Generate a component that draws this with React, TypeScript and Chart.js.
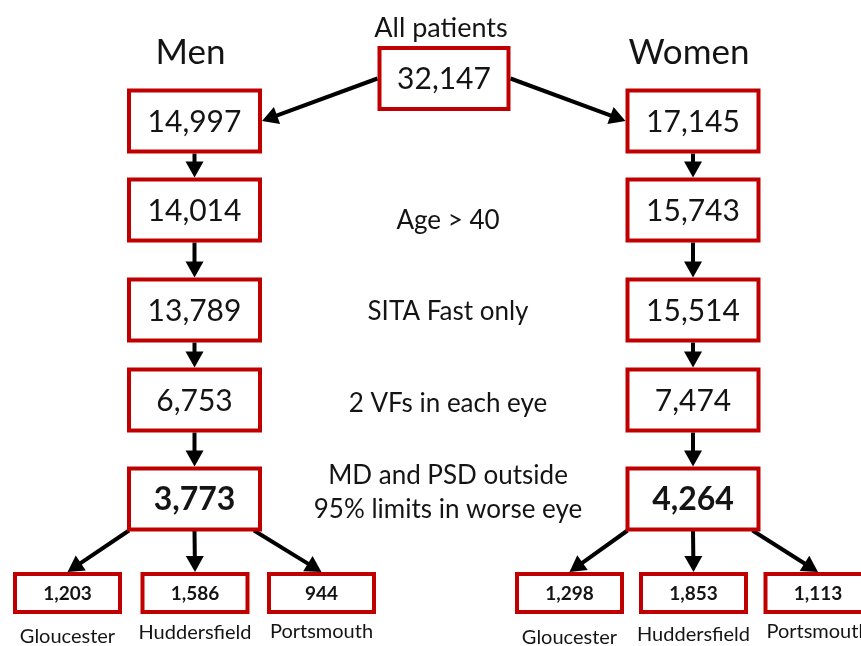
import React, { useEffect, useRef } from "react";
import { Chart, registerables } from "chart.js";
Chart.register(...registerables);

// ---- data ----
const rootTitle = "All patients";
const rootCount = [32147];
const groupNames = ["Men", "Women"];
const stepLabels = ["", "Age > 40", "SITA Fast only", "2 VFs in each eye", "MD and PSD outside\n95% limits in worse eye"];
const menCounts = [14997, 14014, 13789, 6753, 3773];
const womenCounts = [17145, 15743, 15514, 7474, 4264];
const siteNames = ["Gloucester", "Huddersfield", "Portsmouth"];
const menSiteCounts = [1203, 1586, 944];
const womenSiteCounts = [1298, 1853, 1113];

// ---- layout (scale units) ----
const W = 861;
const H = 646;
const centerX = 444;
const stepTextX = 448;
const groupX = [194.5, 693];
const rootY = 78.5;
const titleY = 28;
const groupTitleY = 53;
const stepY = [121, 210, 310, 400, 499];
const stepTextY = [0, 221, 312, 404, 0];
const multiLineY = [476, 510];
const siteX = [
  [67.5, 195, 321.5],
  [569.5, 693.5, 818],
];
const siteY = 593;
const siteLabelY = [
  [637, 632.5, 631.5],
  [637.5, 635, 632],
];
const mainBox = { w: 131, h: 61 };
const rootBox = { w: 129, h: 61 };
const siteBox = { w: 105, h: 38 };

const RED = "#C00000";
const INK = "#141414";
const FONT = "Lato, 'Open Sans', sans-serif";

function fmt(v: number) {
  return v.toLocaleString("en-US");
}

function drawArrow(ctx: CanvasRenderingContext2D, x1: number, y1: number, x2: number, y2: number) {
  const head = 16;
  const half = 9;
  const ang = Math.atan2(y2 - y1, x2 - x1);
  const bx = x2 - head * Math.cos(ang);
  const by = y2 - head * Math.sin(ang);
  ctx.save();
  ctx.strokeStyle = "#000";
  ctx.fillStyle = "#000";
  ctx.lineWidth = 4;
  ctx.beginPath();
  ctx.moveTo(x1, y1);
  ctx.lineTo(bx + 2 * Math.cos(ang), by + 2 * Math.sin(ang));
  ctx.stroke();
  ctx.beginPath();
  ctx.moveTo(x2, y2);
  ctx.lineTo(bx + half * Math.sin(ang), by - half * Math.cos(ang));
  ctx.lineTo(bx - half * Math.sin(ang), by + half * Math.cos(ang));
  ctx.closePath();
  ctx.fill();
  ctx.restore();
}

const flowPlugin = {
  id: "flow",
  afterDatasetsDraw(chart: any) {
    const ctx: CanvasRenderingContext2D = chart.ctx;
    const xs = chart.scales.x;
    const ys = chart.scales.y;
    const px = (v: number) => xs.getPixelForValue(v);
    const py = (v: number) => ys.getPixelForValue(v);
    const sx = (d: number) => Math.abs(px(d) - px(0));
    const sy = (d: number) => Math.abs(py(d) - py(0));

    const box = (x: number, y: number, b: { w: number; h: number }, text: string, font: string) => {
      const w = sx(b.w);
      const h = sy(b.h);
      ctx.save();
      ctx.fillStyle = "#fff";
      ctx.fillRect(x - w / 2, y - h / 2, w, h);
      ctx.strokeStyle = RED;
      ctx.lineWidth = 4;
      ctx.strokeRect(x - w / 2, y - h / 2, w, h);
      ctx.fillStyle = INK;
      ctx.font = font;
      ctx.textAlign = "center";
      ctx.textBaseline = "middle";
      ctx.fillText(text, x, y + 1);
      ctx.restore();
    };
    const label = (x: number, y: number, text: string, font: string) => {
      ctx.save();
      ctx.fillStyle = INK;
      ctx.font = font;
      ctx.textAlign = "center";
      ctx.textBaseline = "middle";
      ctx.fillText(text, x, y);
      ctx.restore();
    };

    const metas = [0, 1, 2, 3, 4].map((i) => chart.getDatasetMeta(i).data);
    const root = metas[0][0];
    const groups = [metas[1], metas[2]];
    const sites = [metas[3], metas[4]];
    const siteCounts = [menSiteCounts, womenSiteCounts];
    const groupCounts = [menCounts, womenCounts];

    // arrows
    const rw = sx(rootBox.w) / 2 + 2;
    const mw = sx(mainBox.w) / 2 + 2;
    const mh = sy(mainBox.h) / 2 + 2;
    const shh = sy(siteBox.h) / 2 + 2;
    drawArrow(ctx, root.x - rw, root.y, groups[0][0].x + mw, groups[0][0].y);
    drawArrow(ctx, root.x + rw, root.y, groups[1][0].x - mw, groups[1][0].y);
    groups.forEach((g) => {
      for (let i = 0; i < g.length - 1; i++) {
        drawArrow(ctx, g[i].x, g[i].y + mh, g[i + 1].x, g[i + 1].y - mh);
      }
    });
    groups.forEach((g, gi) => {
      const last = g[g.length - 1];
      const offs = [-(mw - 2), 0, mw - 8];
      sites[gi].forEach((s: any, si: number) => {
        drawArrow(ctx, last.x + offs[si], last.y + mh - 1, s.x, s.y - shh);
      });
    });

    // boxes and labels
    box(root.x, root.y, rootBox, fmt(rootCount[0]), `30px ${FONT}`);
    label(px(centerX - 3), py(titleY), rootTitle, `27px ${FONT}`);
    groups.forEach((g, gi) => {
      label(px(groupX[gi] - 4), py(groupTitleY), groupNames[gi], `35px ${FONT}`);
      g.forEach((p: any, i: number) => {
        const isLast = i === g.length - 1;
        box(p.x, p.y, mainBox, fmt(groupCounts[gi][i]), isLast ? `bold 32px ${FONT}` : `30px ${FONT}`);
      });
      sites[gi].forEach((s: any, si: number) => {
        box(s.x, s.y, siteBox, fmt(siteCounts[gi][si]), `bold 19px ${FONT}`);
        label(s.x, py(siteLabelY[gi][si]), siteNames[si], `20px ${FONT}`);
      });
    });
    stepLabels.forEach((t, i) => {
      if (!t) return;
      const lines = t.split("\n");
      lines.forEach((ln, li) => {
        const y = lines.length > 1 ? multiLineY[li] : stepTextY[i];
        label(px(stepTextX), py(y), ln, `26px ${FONT}`);
      });
    });
  },
};

export default function App() {
  const ref = useRef<HTMLCanvasElement>(null);
  useEffect(() => {
    if (!ref.current) return;
    const chart = new Chart(ref.current, {
      type: "scatter",
      data: {
        datasets: [
          { label: "All", data: rootCount.map(() => ({ x: centerX, y: rootY })), pointRadius: 0 },
          { label: groupNames[0], data: menCounts.map((_, i) => ({ x: groupX[0], y: stepY[i] })), pointRadius: 0 },
          { label: groupNames[1], data: womenCounts.map((_, i) => ({ x: groupX[1], y: stepY[i] })), pointRadius: 0 },
          { label: "Men sites", data: menSiteCounts.map((_, i) => ({ x: siteX[0][i], y: siteY })), pointRadius: 0 },
          { label: "Women sites", data: womenSiteCounts.map((_, i) => ({ x: siteX[1][i], y: siteY })), pointRadius: 0 },
        ],
      },
      options: {
        responsive: false,
        maintainAspectRatio: false,
        animation: false,
        events: [],
        layout: { padding: 0 },
        plugins: { legend: { display: false }, tooltip: { enabled: false } },
        scales: {
          x: { type: "linear", min: 0, max: W, display: false },
          y: { type: "linear", min: 0, max: H, reverse: true, display: false },
        },
      },
      plugins: [flowPlugin],
    });
    return () => chart.destroy();
  }, []);
  return (
    <div style={{ position: "fixed", left: 0, top: 0, width: W, height: H, background: "#fff" }}>
      <canvas ref={ref} width={W} height={H} style={{ display: "block", width: W, height: H }} />
    </div>
  );
}
